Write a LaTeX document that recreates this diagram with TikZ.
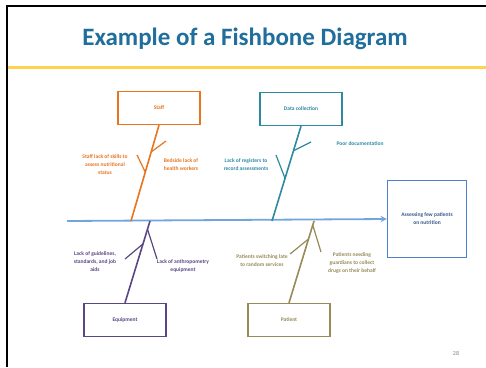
\documentclass[tikz,border=0pt]{standalone}
\usepackage{fontspec}
\setmainfont{Carlito}
\usetikzlibrary{
    arrows,
    positioning,
    calc,
}

\definecolor{titleblue}{HTML}{1F6E9C}
\definecolor{rulegold}{HTML}{FFD34E}
\definecolor{spineblue}{HTML}{74A4DC}
\definecolor{effectblue}{HTML}{4F7FCB}
\definecolor{staffor}{HTML}{E8741E}
\definecolor{datateal}{HTML}{2E8AA3}
\definecolor{equippur}{HTML}{5A4682}
\definecolor{patolive}{HTML}{978A56}

\begin{document}
\begin{tikzpicture}[
    x=1pt, y=-1pt,
    >=stealth,
    title/.style={font=\fontsize{25}{29}\selectfont\bfseries, text=titleblue},
    cause/.style={draw, line width=1.3pt, fill=white, align=center,
                minimum width=82pt, minimum height=33pt,
                font=\fontsize{5.5}{8}\selectfont\bfseries},
    staffbox/.style={cause, draw=staffor, text=staffor},
    databox/.style={cause, draw=datateal, text=datateal},
    equipbox/.style={cause, draw=equippur, text=equippur},
    patbox/.style={cause, draw=patolive, text=patolive},
    effect/.style={cause, draw=effectblue, text=effectblue!70!black,
                minimum width=79pt, minimum height=77pt},
    spine/.style={draw=spineblue, line width=1.8pt},
    bone/.style={line width=1.6pt},
    twig/.style={line width=1.2pt},
    note/.style={align=center, inner sep=0pt, font=\fontsize{5.5}{8}\selectfont\bfseries},
]
\useasboundingbox (0,0) rectangle (486,367);

% slide frame and heading
\draw[line width=1.5pt] (7,367) -- (7,6) -- (486,6);
\node[title] at (245,39) (title) {Example of a Fishbone Diagram};
\draw[rulegold, line width=3pt] (8,67) -- (486,67);

% effect and causes
\node[effect] at (427,219) (effect) {Assessing few patients\\on nutrition};
\node[staffbox] at (159,108) (staff) {Staff};
\node[databox] at (301,109) (data) {Data collection};
\node[equipbox] at (125,320) (equip) {Equipment};
\node[patbox] at (289,320) (patient) {Patient};

\coordinate (tail) at (67,221);
\coordinate (staffend) at (131,221);
\coordinate (dataend) at (272,221);
\coordinate (equipend) at (150,221);
\coordinate (patend) at (314,221);

\draw[spine, ->] (tail) -- (effect.west);

% staff
\draw[bone, staffor] (staff.south) -- (staffend);
\coordinate (staffa) at ($(staff.south)!0.28!(staffend)$);
\coordinate (staffb) at ($(staff.south)!0.49!(staffend)$);
\coordinate (staffta) at (166,141);
\coordinate (stafftb) at (137,155);
\draw[twig, staffor] (staffa) -- (staffta);
\draw[twig, staffor] (stafftb) -- (staffb);
\node[note, text=staffor] at (105,165) (skills) {Staff lack of skills to\\assess nutritional\\status};
\node[note, text=staffor] at (181,165) (workers) {Bedside lack of\\health workers};

% data collection
\draw[bone, datateal] (data.south) -- (dataend);
\coordinate (dataa) at ($(data.south)!0.26!(dataend)$);
\coordinate (datab) at ($(data.south)!0.55!(dataend)$);
\coordinate (datata) at (311,142);
\coordinate (datatb) at (276,155);
\draw[twig, datateal] (dataa) -- (datata);
\draw[twig, datateal] (datatb) -- (datab);
\node[note, text=datateal] at (360,144) (docs) {Poor documentation};
\node[note, text=datateal] at (246,165) (registers) {Lack of registers to\\record assessments};

% equipment
\draw[bone, equippur] (equip.north) -- (equipend);
\coordinate (equipa) at ($(equip.north)!0.72!(equipend)$);
\coordinate (equipb) at ($(equip.north)!0.9!(equipend)$);
\coordinate (equipta) at (125,259);
\coordinate (equiptb) at (157,259);
\draw[twig, equippur] (equipa) -- (equipta);
\draw[twig, equippur] (equipb) -- (equiptb);
\node[note, text=equippur] at (95,262) (guides) {Lack of guidelines,\\standards, and job\\aids};
\node[note, text=equippur] at (183,266) (anthro) {Lack of anthropometry\\equipment};

% patient
\draw[bone, patolive] (patient.north) -- (patend);
\coordinate (pata) at ($(patient.north)!0.78!(patend)$);
\coordinate (patb) at ($(patient.north)!0.95!(patend)$);
\coordinate (patta) at (290,254);
\coordinate (pattb) at (321,252);
\draw[twig, patolive] (pata) -- (patta);
\draw[twig, patolive] (patb) -- (pattb);
\node[note, text=patolive] at (262,261) (late) {Patients switching late\\to random services};
\node[note, text=patolive] at (352,263) (guardians) {Patients needing\\guardians to collect\\drugs on their behalf};

\node[text=gray, font=\fontsize{6}{7}\selectfont] at (456,353) (pagenum) {28};

\end{tikzpicture}
\end{document}
